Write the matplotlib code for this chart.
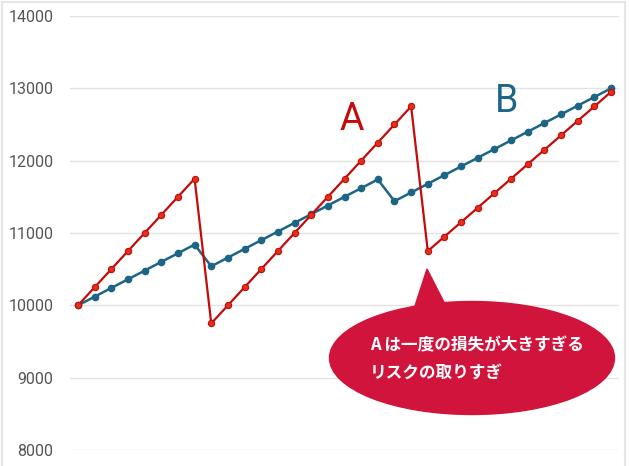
import matplotlib
matplotlib.use('Agg')
import matplotlib.pyplot as plt
from matplotlib.patches import Ellipse, Polygon, Rectangle

plt.rcParams['font.family'] = ['Roboto', 'Noto Sans CJK JP', 'DejaVu Sans']

# series values
a_vals = [10000, 10250, 10500, 10750, 11000, 11250, 11500, 11750,
          9750, 10000, 10250, 10500, 10750, 11000, 11250, 11500, 11750,
          12000, 12250, 12500, 12750,
          10750, 10950, 11150, 11350, 11550, 11750, 11950, 12150, 12350,
          12550, 12750, 12950]
b_vals = [10000, 10120, 10240, 10360, 10480, 10600, 10720, 10840,
          10540, 10660, 10780, 10900, 11020, 11140, 11260, 11380, 11500,
          11620, 11740,
          11440, 11560, 11680, 11800, 11920, 12040, 12160, 12280, 12400,
          12520, 12640, 12760, 12880, 13000]
y_ticks = [8000, 9000, 10000, 11000, 12000, 13000, 14000]
note_lines = ['A は一度の損失が大きすぎる', 'リスクの取りすぎ']

red = '#c40a0a'
blue = '#1c6585'

fig = plt.figure(figsize=(6.3, 4.66), dpi=100)
ax = fig.add_axes([70/630, 16/466, 549/630, 434/466])

x = list(range(len(a_vals)))
ax.plot(x, b_vals, color=blue, lw=1.8, marker='o', ms=4.5,
        mfc=blue, mec=blue, zorder=3)
ax.plot(x, a_vals, color=red, lw=1.6, marker='o', ms=4.5,
        mfc='#e2301a', mec=red, mew=0.8, zorder=4)

ax.set_ylim(8000, 14000)
ax.set_xlim(-0.48, 32.48)
ax.set_yticks(y_ticks)
ax.set_xticks([])
ax.grid(axis='y', color='#e3e3e3', lw=1)
ax.set_axisbelow(True)
for s in ax.spines.values():
    s.set_visible(False)
ax.tick_params(axis='y', length=0, pad=12, labelsize=11.5, labelcolor='#555555')

# series labels
ax.text(352/630, 1 - 120/466, 'A', transform=fig.transFigure, color=red,
        fontsize=27, ha='center', va='center')
ax.text(507/630, 1 - 101/466, 'B', transform=fig.transFigure, color=blue,
        fontsize=27, ha='center', va='center')

# callout
callout = '#d0143c'
W, H = 630, 466
fig.patches.append(Ellipse((472/W, 1 - 358/H), 285/W, 113/H,
                           transform=fig.transFigure, color=callout, zorder=5))
fig.patches.append(Polygon([(427/W, 1 - 269/H), (413/W, 1 - 312/H), (449/W, 1 - 312/H)],
                           closed=True, transform=fig.transFigure, color=callout, zorder=5))
fig.text(370/W, 1 - 345/H, note_lines[0], color='white', fontsize=12,
         fontweight='bold', va='center', ha='left', zorder=6,
         family=['Noto Sans CJK JP', 'DejaVu Sans'])
fig.text(370/W, 1 - 374/H, note_lines[1], color='white', fontsize=12,
         fontweight='bold', va='center', ha='left', zorder=6,
         family=['Noto Sans CJK JP', 'DejaVu Sans'])

# frame around the picture
fig.patches.append(Rectangle((2/W, -0.01), 623/W, 1 - 2/H + 0.01, fill=False,
                             edgecolor='#e6e6e6', lw=1.5, transform=fig.transFigure))

fig.savefig('out.png', dpi=100)
